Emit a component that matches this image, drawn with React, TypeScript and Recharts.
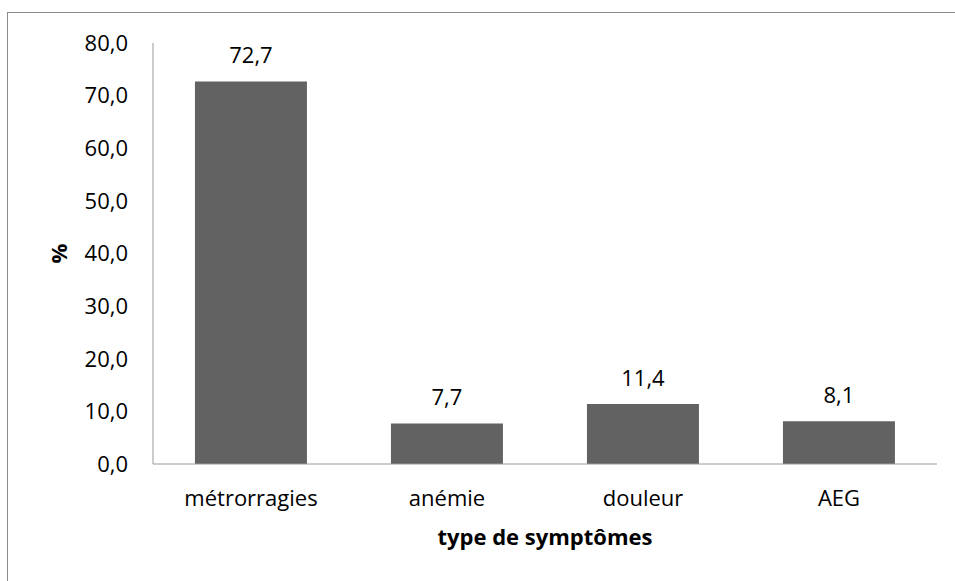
import { BarChart, Bar, XAxis, YAxis, LabelList, Label } from 'recharts'

const categories = ['métrorragies', 'anémie', 'douleur', 'AEG']
const percents = [72.7, 7.7, 11.4, 8.1]
const yTicks = [0, 10, 20, 30, 40, 50, 60, 70, 80]

const data = categories.map((name, i) => ({ name, value: percents[i] }))

const FONT = '"Open Sans", sans-serif'
const fmt = (v: number) => Number(v).toFixed(1).replace('.', ',')

function YTitle(props: any) {
  const vb = props.viewBox || {}
  const cx = 58
  const cy = vb.y + vb.height / 2
  return (
    <text
      x={cx}
      y={cy}
      transform={`rotate(-90, ${cx}, ${cy})`}
      textAnchor="middle"
      dominantBaseline="central"
      fontFamily={FONT}
      fontSize={22}
      fontWeight="bold"
      fill="#000"
    >
      %
    </text>
  )
}

export default function App() {
  return (
    <div style={{ position: 'fixed', left: 0, top: 0, width: 955, height: 581, overflow: 'hidden', background: '#fff' }}>
      {/* frame: only top and left edges fall inside the picture */}
      <div
        style={{
          position: 'absolute', left: 7, top: 12, width: 1000, height: 640,
          border: '1px solid #8c8c8c', boxSizing: 'border-box',
        }}
      />
      <div style={{ position: 'absolute', left: 0, top: 0 }}>
        <BarChart
          width={955}
          height={581}
          data={data}
          margin={{ top: 43, right: 18, bottom: 0, left: 0 }}
          barCategoryGap="21.4%"
        >
          <XAxis
            dataKey="name"
            height={117}
            tickLine={false}
            tickSize={0}
            tickMargin={26}
            stroke="#999"
            tick={{ fill: '#000', fontFamily: FONT, fontSize: 22 }}
          >
            <Label
              value="type de symptômes"
              position="insideBottom"
              offset={36}
              fill="#000"
              fontFamily={FONT}
              fontSize={22}
              fontWeight="bold"
            />
          </XAxis>
          <YAxis
            width={153}
            domain={[0, 80]}
            ticks={yTicks}
            tickFormatter={fmt}
            tickLine={false}
            tickSize={0}
            tickMargin={25}
            stroke="#999"
            tick={{ fill: '#000', fontFamily: FONT, fontSize: 22 }}
          >
            <Label content={<YTitle />} />
          </YAxis>
          <Bar dataKey="value" fill="#626262" isAnimationActive={false}>
            <LabelList
              dataKey="value"
              position="top"
              offset={18}
              formatter={(v: any) => fmt(v)}
              fill="#000"
              fontFamily={FONT}
              fontSize={22}
            />
          </Bar>
        </BarChart>
      </div>
    </div>
  )
}
